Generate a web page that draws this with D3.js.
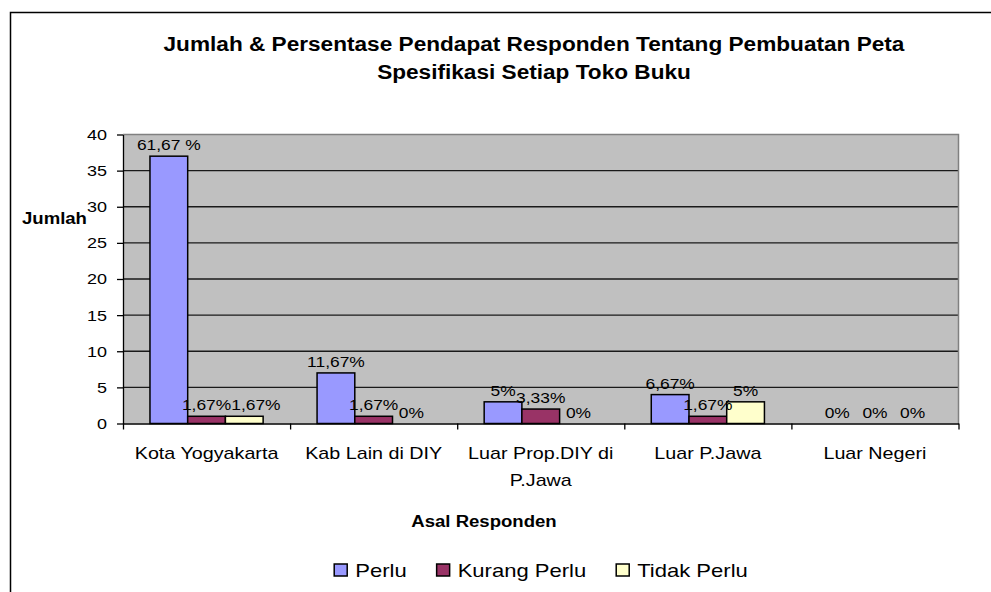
<!DOCTYPE html>
<html>
<head>
    <meta charset="utf-8">
    <title>Jumlah &amp; Persentase Pendapat Responden</title>
    <style>
        body { margin: 0; background: #fff; }
        svg text { font-family: Arial, "Liberation Sans", sans-serif; fill: #000; }
    </style>
</head>
<body>
<div class="chart-container"></div>
<script src="https://cdn.jsdelivr.net/npm/d3@7"></script>
<script>
    // data
    var categories = ['Kota Yogyakarta', 'Kab Lain di DIY', 'Luar Prop.DIY di\nP.Jawa', 'Luar P.Jawa', 'Luar Negeri'];
    var seriesNames = ['Perlu', 'Kurang Perlu', 'Tidak Perlu'];
    var perlu = [37, 7, 3, 4, 0];
    var kurangPerlu = [1, 1, 2, 1, 0];
    var tidakPerlu = [1, 0, 0, 3, 0];
    var perluLabels = ['61,67 %', '11,67%', '5%', '6,67%', '0%'];
    var kurangPerluLabels = ['1,67%', '1,67%', '3,33%', '1,67%', '0%'];
    var tidakPerluLabels = ['1,67%', '0%', '0%', '5%', '0%'];
    var yTicks = [0, 5, 10, 15, 20, 25, 30, 35, 40];
    var titleLines = ['Jumlah & Persentase Pendapat Responden Tentang Pembuatan Peta', 'Spesifikasi Setiap Toko Buku'];

    var seriesValues = [perlu, kurangPerlu, tidakPerlu];
    var seriesLabels = [perluLabels, kurangPerluLabels, tidakPerluLabels];
    var seriesColors = ['#9999ff', '#993366', '#ffffcc'];

    var width = 991, height = 592;
    var sx = 1.16; // the source picture is a bit wider than tall glyphs would give
    var plot = {left: 123, top: 134.5, right: 958.5, bottom: 423.5};
    var gapWidth = 1.43;

    var svg = d3.select('.chart-container').append('svg')
            .attr('width', width)
            .attr('height', height);

    function addText(parent, str, x, y, size, weight, anchor) {
        return parent.append('text')
                .attr('transform', 'translate(' + x + ',' + y + ') scale(' + sx + ',1)')
                .style('font-size', size + 'px')
                .style('font-weight', weight || 'normal')
                .attr('text-anchor', anchor || 'middle')
                .text(str);
    }

    // outer frame (runs off the right and bottom of the picture)
    svg.append('rect')
            .attr('x', 10.5).attr('y', 12.5)
            .attr('width', 1000).attr('height', 600)
            .style('fill', '#fff')
            .style('stroke', '#000')
            .style('stroke-width', 1.5);

    var x0 = d3.scaleBand()
            .domain(categories)
            .range([plot.left, plot.right]);

    var x1 = d3.scaleBand()
            .domain(seriesNames)
            .range([0, x0.bandwidth()])
            .paddingInner(0)
            .paddingOuter(gapWidth / 2);

    var y = d3.scaleLinear()
            .domain([0, 40])
            .range([plot.bottom, plot.top]);

    var xEdge = d3.scaleLinear()
            .domain([0, categories.length])
            .range([plot.left, plot.right]);

    // plot area
    svg.append('rect')
            .attr('x', plot.left).attr('y', plot.top)
            .attr('width', plot.right - plot.left)
            .attr('height', plot.bottom - plot.top)
            .style('fill', '#c0c0c0');

    svg.append('g')
            .selectAll('line')
            .data(yTicks.filter(function (t) { return t > 0 && t < 40; }))
            .enter().append('line')
            .attr('x1', plot.left).attr('x2', plot.right)
            .attr('y1', function (d) { return y(d); })
            .attr('y2', function (d) { return y(d); })
            .style('stroke', '#1a1a1a')
            .style('stroke-width', 1.3);

    svg.append('path')
            .attr('d', 'M' + plot.left + ',' + y(40) + 'H' + plot.right + 'V' + plot.bottom)
            .style('fill', 'none')
            .style('stroke', '#808080')
            .style('stroke-width', 1.5);

    // bars
    var barData = [];
    categories.forEach(function (c, i) {
        seriesNames.forEach(function (s, j) {
            barData.push({cat: c, ci: i, series: s, si: j, value: seriesValues[j][i], label: seriesLabels[j][i]});
        });
    });

    svg.append('g')
            .selectAll('rect')
            .data(barData.filter(function (d) { return d.value > 0; }))
            .enter().append('rect')
            .attr('x', function (d) { return x0(d.cat) + x1(d.series); })
            .attr('y', function (d) { return y(d.value); })
            .attr('width', x1.bandwidth())
            .attr('height', function (d) { return y(0) - y(d.value); })
            .style('fill', function (d) { return seriesColors[d.si]; })
            .style('stroke', '#000')
            .style('stroke-width', 1.5);

    // axes
    var yAxis = svg.append('g')
            .attr('transform', 'translate(' + plot.left + ',0)')
            .call(d3.axisLeft(y).tickValues(yTicks).tickSize(6).tickSizeOuter(0));
    yAxis.selectAll('text')
            .attr('x', -16 / sx)
            .attr('transform', 'scale(' + sx + ',1)')
            .style('font-size', '15.5px');

    svg.append('g')
            .attr('transform', 'translate(0,' + plot.bottom + ')')
            .call(d3.axisBottom(xEdge)
                    .tickValues(d3.range(categories.length + 1))
                    .tickFormat('')
                    .tickSize(6)
                    .tickSizeOuter(0));

    svg.selectAll('.domain, .tick line')
            .style('stroke', '#000')
            .style('stroke-width', 1.3);

    // category labels
    var catG = svg.append('g');
    categories.forEach(function (c) {
        c.split('\n').forEach(function (line, k) {
            addText(catG, line, x0(c) + x0.bandwidth() / 2, 459 + k * 27, 17);
        });
    });

    // data labels, nudged right where they would overlap
    var labelSize = 15;
    var labelG = svg.append('g');
    categories.forEach(function (c, i) {
        var prev = null;
        barData.filter(function (d) { return d.ci === i; }).forEach(function (d) {
            var cx = x0(d.cat) + x1(d.series) + x1.bandwidth() / 2;
            var base = y(d.value) - 6;
            var t = addText(labelG, d.label, 0, 0, labelSize);
            var w = t.node().getComputedTextLength() * sx;
            var left = cx - w / 2;
            if (prev && Math.abs(prev.base - base) < labelSize && prev.right > left) {
                left = prev.right;
            }
            t.attr('text-anchor', 'start')
                    .attr('transform', 'translate(' + left + ',' + base + ') scale(' + sx + ',1)');
            prev = {right: left + w, base: base};
        });
    });

    // titles
    var titleG = svg.append('g');
    titleLines.forEach(function (line, k) {
        addText(titleG, line, 534, 51 + k * 28, 19.5, 'bold');
    });
    addText(svg, 'Jumlah', 22, 224, 16, 'bold', 'start');
    addText(svg, 'Asal Responden', 484, 527, 16, 'bold');

    // legend
    var legend = svg.append('g');
    var legendCenter = 541, legendBase = 577;
    var items = seriesNames.map(function (s, j) {
        var g = legend.append('g');
        g.append('rect')
                .attr('y', legendBase - 13)
                .attr('width', 13).attr('height', 12)
                .style('fill', seriesColors[j])
                .style('stroke', '#000')
                .style('stroke-width', 1.5);
        var t = addText(g, s, 21, legendBase, 19, 'normal', 'start');
        return {g: g, w: 21 + t.node().getComputedTextLength() * sx};
    });
    var total = d3.sum(items, function (d) { return d.w; }) + 30 * (items.length - 1);
    var pos = legendCenter - total / 2;
    items.forEach(function (d) {
        d.g.attr('transform', 'translate(' + pos + ',0)');
        pos += d.w + 30;
    });
</script>
</body>
</html>
